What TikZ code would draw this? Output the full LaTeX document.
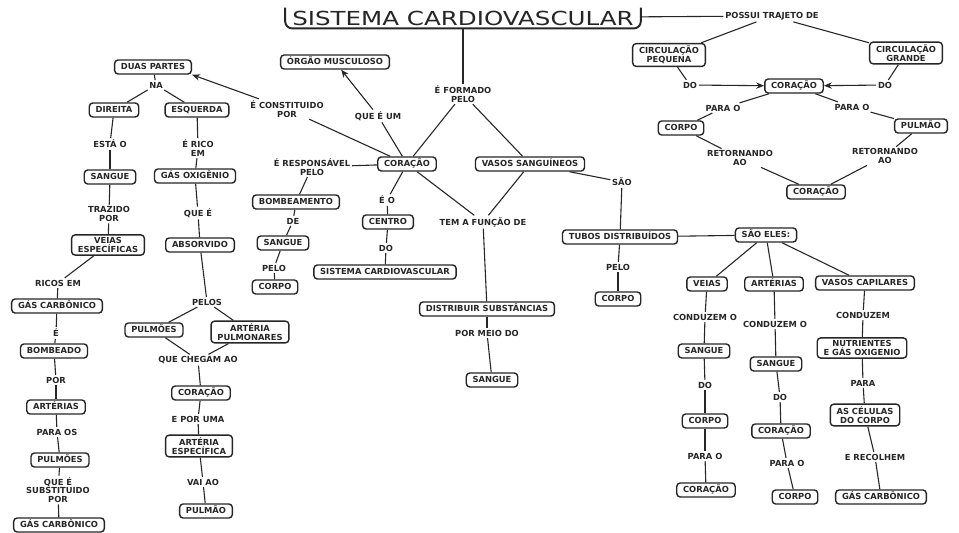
\documentclass[tikz,border=0pt]{standalone}
\usepackage{fontspec}
\usepackage{graphicx}
\setmainfont{DejaVu Sans}
\usetikzlibrary{arrows.meta}
\begin{document}
\begin{tikzpicture}[x={(0.02cm,0cm)},y={(0cm,-0.02cm)},
  every node/.style={font=\fontsize{4.75}{4.9}\selectfont\bfseries, text=black!85},
  bx/.style={draw=black!85, rounded corners=2pt, line width=0.8pt, inner xsep=3.6pt, inner ysep=2.1pt, text height=3.5pt, text depth=0.3pt},
  bxx/.style={draw=black!85, rounded corners=2pt, line width=0.8pt, inner xsep=3.6pt, inner ysep=1.5pt, align=center},
  lb/.style={inner sep=0.9pt, align=center},
  ln/.style={line width=0.62pt, draw=black!85},
  ar/.style={ln, -{Stealth[length=4.5pt,width=3.6pt]}}]
\fill[white] (0,0) rectangle (959,533);
\useasboundingbox (0,0) rectangle (959,533);

% title
\node[minimum width=202pt, minimum height=11.5pt, inner sep=0pt,
  font=\fontsize{11}{12}\selectfont] (t) at (463,18) {\scalebox{1.27}[1]{SISTEMA CARDIOVASCULAR}};
\draw[line width=1.1pt, draw=black!85, rounded corners=4pt] (t.north west) -- (t.south west) -- (t.south east) -- (t.north east);

% boxes
\node[bx] (duas) at (153,67) {DUAS PARTES};
\node[bx] (dir) at (114,110) {DIREITA};
\node[bx] (esq) at (197,110) {ESQUERDA};
\node[bx] (sang1) at (110,177) {SANGUE};
\node[bx] (gasox) at (195,176) {GÁS OXIGÊNIO};
\node[bxx] (veias1) at (108,245) {VEIAS\\ESPECÍFICAS};
\node[bx] (absorv) at (200,245) {ABSORVIDO};
\node[bx] (gc1) at (57,306) {GÁS CARBÔNICO};
\node[bx] (bomb1) at (54,351) {BOMBEADO};
\node[bx] (art1) at (56,407) {ARTÉRIAS};
\node[bx] (pulm1) at (60,460) {PULMÕES};
\node[bx] (gc2) at (59,525) {GÁS CARBÔNICO};
\node[bx] (pulm2) at (154,330) {PULMÕES};
\node[bxx] (artpulm) at (250,332) {ARTÉRIA\\PULMONARES};
\node[bx] (cor2) at (201,393) {CORAÇÃO};
\node[bxx] (artesp) at (199,446) {ARTÉRIA\\ESPECÍFICA};
\node[bx] (pulmao1) at (206,511) {PULMÃO};
\node[bx] (orgao) at (335,62) {ÓRGÃO MUSCULOSO};
\node[bx] (cor) at (407,164) {CORAÇÃO};
\node[bx] (bombeam) at (296,202) {BOMBEAMENTO};
\node[bx] (sang2) at (283,243) {SANGUE};
\node[bx] (corpo1) at (275,287) {CORPO};
\node[bx] (centro) at (388,222) {CENTRO};
\node[bx] (sistcv) at (385,272) {SISTEMA CARDIOVASCULAR};
\node[bx] (vasos) at (530,164) {VASOS SANGUÍNEOS};
\node[bx] (distr) at (487,309) {DISTRIBUIR SUBSTÂNCIAS};
\node[bx] (sang3) at (492,380) {SANGUE};
\node[bx] (tubos) at (620,237) {TUBOS DISTRIBUÍDOS};
\node[bx] (corpo2) at (618,299) {CORPO};
\node[bx] (saoeles) at (766,235) {SÃO ELES:};
\node[bx] (veias2) at (707,284) {VEIAS};
\node[bx] (arts) at (774,284) {ARTÉRIAS};
\node[bx] (capil) at (865,283) {VASOS CAPILARES};
\node[bx] (sang4) at (704,351) {SANGUE};
\node[bx] (corpo3) at (705,421) {CORPO};
\node[bx] (cor3) at (706,490) {CORAÇÃO};
\node[bx] (sang5) at (776,364) {SANGUE};
\node[bx] (cor4) at (781,431) {CORAÇÃO};
\node[bx] (corpo4) at (795,497) {CORPO};
\node[bxx] (nutr) at (862,348) {NUTRIENTES\\E GÁS OXIGENIO};
\node[bxx] (celulas) at (865,415) {AS CÉLULAS\\DO CORPO};
\node[bx] (gc3) at (881,497) {GÁS CARBÔNICO};
\node[bxx] (circp) at (669,55) {CIRCULAÇÃO\\PEQUENA};
\node[bxx] (circg) at (906,53) {CIRCULAÇÃO\\GRANDE};
\node[bx] (cor5) at (794,86) {CORAÇÃO};
\node[bx] (corpo5) at (681,128) {CORPO};
\node[bx] (pulmao2) at (921,126) {PULMÃO};
\node[bx] (cor6) at (816,192) {CORAÇÃO};

% labels
\node[lb] (na) at (156,85) {NA};
\node[lb] (estao) at (110,144) {ESTÁ O};
\node[lb] (ricoem) at (198,148) {É RICO\\EM};
\node[lb] (trazido) at (109,214) {TRAZIDO\\POR};
\node[lb] (quee1) at (198,213) {QUE É};
\node[lb] (ricos) at (58,283) {RICOS EM};
\node[lb] (e1) at (56,333) {É};
\node[lb] (por1) at (56,380) {POR};
\node[lb] (paraos) at (57,432) {PARA OS};
\node[lb] (queesub) at (58,490) {QUE É\\SUBSTITUIDO\\POR};
\node[lb] (pelos) at (207,302) {PELOS};
\node[lb] (quechegam) at (198,360) {QUE CHEGAM AO};
\node[lb] (eporuma) at (198,419) {E POR UMA};
\node[lb] (vaiao) at (203,482) {VAI AO};
\node[lb] (econst) at (287,109) {É CONSTITUIDO\\POR};
\node[lb] (queeum) at (378,116) {QUE É UM};
\node[lb] (eformado) at (463,94) {É FORMADO\\PELO};
\node[lb] (eresp) at (312,167) {É RESPONSÁVEL\\PELO};
\node[lb] (de1) at (293,221) {DE};
\node[lb] (pelo1) at (274,268) {PELO};
\node[lb] (eo) at (387,200) {É O};
\node[lb] (do1) at (386,248) {DO};
\node[lb] (temfunc) at (483,222) {TEM A FUNÇÃO DE};
\node[lb] (pormeio) at (487,333) {POR MEIO DO};
\node[lb] (sao) at (622,182) {SÃO};
\node[lb] (pelo2) at (618,267) {PELO};
\node[lb] (condo1) at (705,317) {CONDUZEM O};
\node[lb] (do2) at (705,385) {DO};
\node[lb] (parao1) at (705,456) {PARA O};
\node[lb] (condo2) at (775,324) {CONDUZEM O};
\node[lb] (do3) at (780,397) {DO};
\node[lb] (parao2) at (787,463) {PARA O};
\node[lb] (conduzem) at (863,315) {CONDUZEM};
\node[lb] (para) at (863,383) {PARA};
\node[lb] (erecolhem) at (875,457) {E RECOLHEM};
\node[lb] (possui) at (772,16) {POSSUI TRAJETO DE};
\node[lb] (dol) at (690,85) {DO};
\node[lb] (dor) at (885,85) {DO};
\node[lb] (paraol) at (723,108) {PARA O};
\node[lb] (paraor) at (852,107) {PARA O};
\node[lb] (retl) at (740,158) {RETORNANDO\\AO};
\node[lb] (retr) at (885,156) {RETORNANDO\\AO};

% connectors
\draw[ln] (t) -- (eformado);
\draw[ln] (t) -- (possui);
\draw[ln] (eformado) -- (cor);
\draw[ln] (eformado) -- (vasos);
\draw[ln] (cor) -- (econst);
\draw[ar] (econst) -- (duas.south east);
\draw[ln] (cor) -- (queeum);
\draw[ar] (queeum) -- (orgao);
\draw[ln] (cor) -- (eresp);
\draw[ln] (eresp) -- (bombeam);
\draw[ln] (bombeam) -- (de1) -- (sang2) -- (pelo1) -- (corpo1);
\draw[ln] (cor) -- (eo);
\draw[ln] (eo) -- (centro);
\draw[ln] (centro) -- (do1);
\draw[ln] (do1) -- (sistcv);
\draw[ln] (cor) -- (temfunc);
\draw[ln] (vasos) -- (temfunc);
\draw[ln] (temfunc) -- (distr);
\draw[ln] (distr) -- (pormeio);
\draw[ln] (pormeio) -- (sang3);
\draw[ln] (vasos) -- (sao);
\draw[ln] (sao) -- (tubos);
\draw[ln] (tubos) -- (saoeles);
\draw[ln] (tubos) -- (pelo2);
\draw[ln] (pelo2) -- (corpo2);
\draw[ln] (saoeles) -- (veias2);
\draw[ln] (saoeles) -- (arts);
\draw[ln] (saoeles) -- (capil);
\draw[ln] (veias2) -- (condo1);
\draw[ln] (condo1) -- (sang4);
\draw[ln] (sang4) -- (do2);
\draw[ln] (do2) -- (corpo3);
\draw[ln] (corpo3) -- (parao1);
\draw[ln] (parao1) -- (cor3);
\draw[ln] (arts) -- (condo2);
\draw[ln] (condo2) -- (sang5);
\draw[ln] (sang5) -- (do3);
\draw[ln] (do3) -- (cor4);
\draw[ln] (cor4) -- (parao2);
\draw[ln] (parao2) -- (corpo4);
\draw[ln] (capil) -- (conduzem);
\draw[ln] (conduzem) -- (nutr);
\draw[ln] (nutr) -- (para);
\draw[ln] (para) -- (celulas);
\draw[ln] (celulas) -- (erecolhem);
\draw[ln] (erecolhem) -- (gc3);
\draw[ln] (possui) -- (circp);
\draw[ln] (possui) -- (circg);
\draw[ln] (circp) -- (dol);
\draw[ar] (dol) -- (cor5);
\draw[ln] (circg) -- (dor);
\draw[ar] (dor) -- (cor5);
\draw[ln] (cor5) -- (paraol);
\draw[ln] (paraol) -- (corpo5);
\draw[ln] (cor5) -- (paraor);
\draw[ln] (paraor) -- (pulmao2);
\draw[ln] (corpo5) -- (retl);
\draw[ln] (retl) -- (cor6);
\draw[ln] (pulmao2) -- (retr);
\draw[ln] (retr) -- (cor6);
\draw[ln] (duas) -- (na);
\draw[ln] (na) -- (dir);
\draw[ln] (na) -- (esq);
\draw[ln] (dir) -- (estao);
\draw[ln] (estao) -- (sang1);
\draw[ln] (sang1) -- (trazido);
\draw[ln] (trazido) -- (veias1);
\draw[ln] (veias1) -- (ricos);
\draw[ln] (ricos) -- (gc1);
\draw[ln] (gc1) -- (e1);
\draw[ln] (e1) -- (bomb1);
\draw[ln] (bomb1) -- (por1);
\draw[ln] (por1) -- (art1);
\draw[ln] (art1) -- (paraos);
\draw[ln] (paraos) -- (pulm1);
\draw[ln] (pulm1) -- (queesub);
\draw[ln] (queesub) -- (gc2);
\draw[ln] (esq) -- (ricoem);
\draw[ln] (ricoem) -- (gasox);
\draw[ln] (gasox) -- (quee1);
\draw[ln] (quee1) -- (absorv);
\draw[ln] (absorv) -- (pelos);
\draw[ln] (pelos) -- (pulm2);
\draw[ln] (pelos) -- (artpulm);
\draw[ln] (pulm2) -- (quechegam);
\draw[ln] (artpulm) -- (quechegam);
\draw[ln] (quechegam) -- (cor2);
\draw[ln] (cor2) -- (eporuma);
\draw[ln] (eporuma) -- (artesp);
\draw[ln] (artesp) -- (vaiao);
\draw[ln] (vaiao) -- (pulmao1);
\end{tikzpicture}
\end{document}
